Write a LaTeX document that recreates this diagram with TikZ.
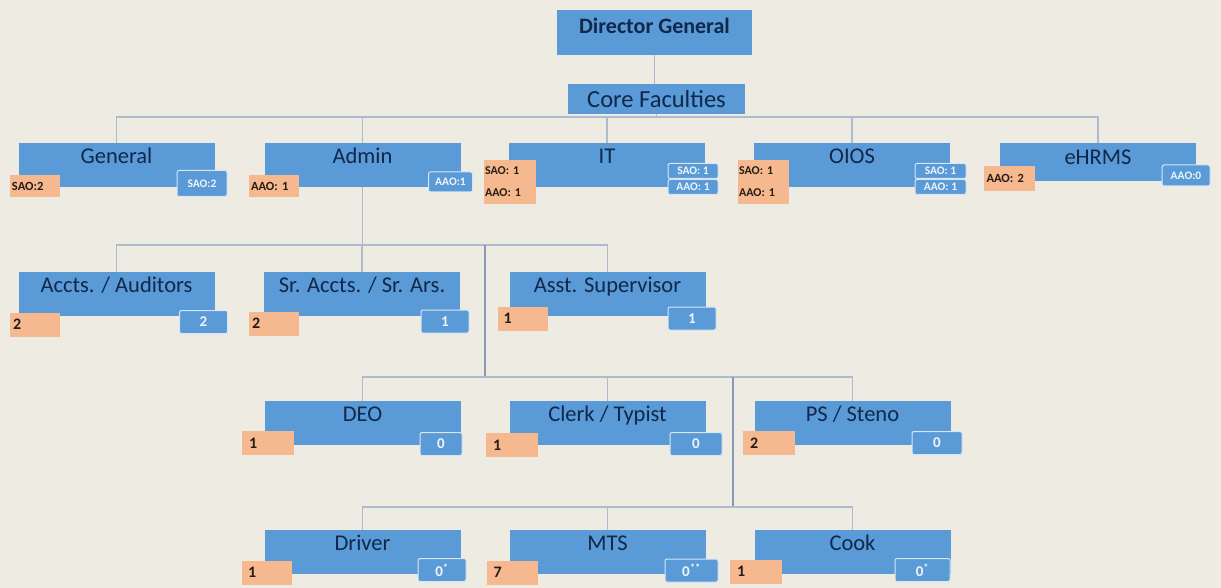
\documentclass[tikz,border=0pt]{standalone}
\usepackage{fontspec}
\setmainfont{Carlito}
\usetikzlibrary{backgrounds}
\definecolor{bgc}{HTML}{EEEBE3}
\definecolor{boxblue}{HTML}{5A9AD6}
\definecolor{navy}{HTML}{10284A}
\definecolor{orng}{HTML}{F6B98F}
\definecolor{linegray}{HTML}{AEBBCC}
\definecolor{trunkc}{HTML}{8799B6}
\begin{document}
\begin{tikzpicture}[x=1pt,y=-1pt,
  box/.style={fill=boxblue, minimum width=196pt, minimum height=44pt, inner sep=0pt,
    font=\fontsize{22.5}{24}\selectfont, text=navy, text height=14pt, text depth=17pt},
  olab/.style={fill=orng, minimum width=50pt, minimum height=24pt, inner xsep=3pt, inner ysep=0pt,
    text width=44pt, align=left, text=black!85!orng, font=\bfseries\fontsize{16}{18}\selectfont},
  olabs/.style={olab, inner xsep=2pt, text width=46pt, font=\bfseries\fontsize{12.5}{14}\selectfont},
  blab/.style={fill=boxblue, draw=white!75!boxblue, line width=1pt, rounded corners=2pt,
    minimum width=48pt, minimum height=23pt, inner sep=0pt, text=white!90!boxblue,
    font=\bfseries\fontsize{15}{16}\selectfont},
  blabs/.style={blab, font=\bfseries\fontsize{11.5}{12}\selectfont},
  conn/.style={draw=linegray, line width=1.8pt},
  trunk/.style={draw=trunkc, line width=2pt}]
\useasboundingbox (0,0) rectangle (1221,588);

% top
\node[box, minimum width=195pt, minimum height=45pt, font=\bfseries\fontsize{22}{24}\selectfont, text height=14pt, text depth=11pt] (dg) at (654.5,32.5) {Director General};
\node[box, minimum width=177pt, minimum height=30pt, font=\fontsize{24.5}{26}\selectfont, text height=18pt, text depth=0pt] (cf) at (656.5,99) {Core Faculties};

% level 1
\node[box] (gen) at (116.5,165) {General};
\node[box] (adm) at (362.5,165) {Admin};
\node[box] (it) at (607,165) {IT};
\node[box] (oios) at (852,165) {OIOS};
\node[box, minimum height=38pt, text height=15pt, text depth=10pt] (ehr) at (1098,162) {eHRMS};

\node[olabs, minimum height=22pt] (genO) at (35,186) {SAO:2};
\node[blabs, minimum width=50pt, minimum height=26pt] (genB) at (202,183.5) {SAO:2};
\node[olabs, minimum height=22pt] (admO) at (274,186) {AAO: 1};
\node[blabs, minimum width=44pt, minimum height=20pt] (admB) at (450.5,182) {AAO:1};

\node[olabs, minimum width=52pt, minimum height=44pt, text width=50pt, inner xsep=1pt, font=\bfseries\fontsize{12}{22}\selectfont] (itO) at (510,182) {SAO: 1\\AAO: 1};
\node[blabs, minimum width=50pt, minimum height=15pt] (itB1) at (693,171) {SAO: 1};
\node[blabs, minimum width=50pt, minimum height=15pt] (itB2) at (693,187) {AAO: 1};

\node[olabs, minimum width=51pt, minimum height=44pt, text width=49pt, inner xsep=1pt, font=\bfseries\fontsize{12}{22}\selectfont] (oiO) at (763.5,182) {SAO: 1\\AAO: 1};
\node[blabs, minimum width=51pt, minimum height=15pt] (oiB1) at (940.5,171) {SAO: 1};
\node[blabs, minimum width=51pt, minimum height=15pt] (oiB2) at (940.5,187) {AAO: 1};

\node[olabs, minimum width=51pt, minimum height=25pt] (ehO) at (1009.5,178.5) {AAO: 2};
\node[blabs, minimum width=48pt, minimum height=21pt] (ehB) at (1186,175.5) {AAO:0};

% level 2
\node[box] (acc) at (116.5,294) {Accts. / Auditors};
\node[box] (sra) at (362,294) {Sr. Accts. / Sr. Ars.};
\node[box] (asu) at (607.5,294) {Asst. Supervisor};
\node[olab] (accO) at (35,324.5) {2};
\node[blab] (accB) at (203.5,322) {2};
\node[olab] (sraO) at (274,323.5) {2};
\node[blab] (sraB) at (445,321.5) {1};
\node[olab, text width=38pt, inner xsep=6pt] (asuO) at (522.5,318.5) {1};
\node[blab] (asuB) at (692,318.5) {1};

% level 3
\node[box] (deo) at (362.5,423) {DEO};
\node[box] (clk) at (607.5,423) {Clerk / Typist};
\node[box] (ps) at (852.5,423) {PS / Steno};
\node[olab, minimum width=52pt, text width=38pt, inner xsep=7pt] (deoO) at (268,443) {1};
\node[blab, minimum width=42pt] (deoB) at (441,444) {0};
\node[olab, minimum width=52pt, text width=38pt, inner xsep=7pt] (clkO) at (512,445) {1};
\node[blab, minimum width=52pt] (clkB) at (696,444) {0};
\node[olab, minimum width=52pt, text width=38pt, inner xsep=7pt] (psO) at (769,443) {2};
\node[blab, minimum width=50pt] (psB) at (937,443) {0};

% level 4
\node[box] (drv) at (362.5,552) {Driver};
\node[box] (mts) at (607.5,552) {MTS};
\node[box] (cook) at (852.5,552) {Cook};
\node[olab, text width=38pt, inner xsep=6pt] (drvO) at (267,572.5) {1};
\node[blab] (drvB) at (442,570) {0\textsuperscript{*}};
\node[olab, minimum width=51pt, text width=38pt, inner xsep=6pt] (mtsO) at (512.5,572.5) {7};
\node[blab, minimum width=53pt] (mtsB) at (691.5,570.5) {0\textsuperscript{**}};
\node[olab, minimum width=52pt, text width=38pt, inner xsep=7pt] (cookO) at (756,571.5) {1};
\node[blab, minimum width=55pt] (cookB) at (922.5,570) {0\textsuperscript{*}};

% connectors
\coordinate (b1) at (0,117);
\coordinate (b2) at (0,245);
\coordinate (j1) at (485,245);
\coordinate (j2) at (485,377);
\coordinate (j3) at (733,377);
\coordinate (j4) at (733,507);
\begin{pgfonlayer}{background}
\fill[bgc] (0,0) rectangle (1221,588);
\draw[conn] (dg.south) -- (dg.south |- cf.north);
\foreach \c in {gen,adm,it,oios,ehr} \draw[conn] (cf.south) -- (cf.south |- b1) -| (\c.north);
\foreach \c in {acc,sra,asu} \draw[conn] (adm.south) -- (adm.south |- b2) -| (\c.north);
\draw[trunk] (j1) -- (j2);
\foreach \c in {deo,clk,ps} \draw[conn] (j2) -| (\c.north);
\draw[trunk] (j3) -- (j4);
\foreach \c in {drv,mts,cook} \draw[conn] (j4) -| (\c.north);
\end{pgfonlayer}
\end{tikzpicture}
\end{document}
